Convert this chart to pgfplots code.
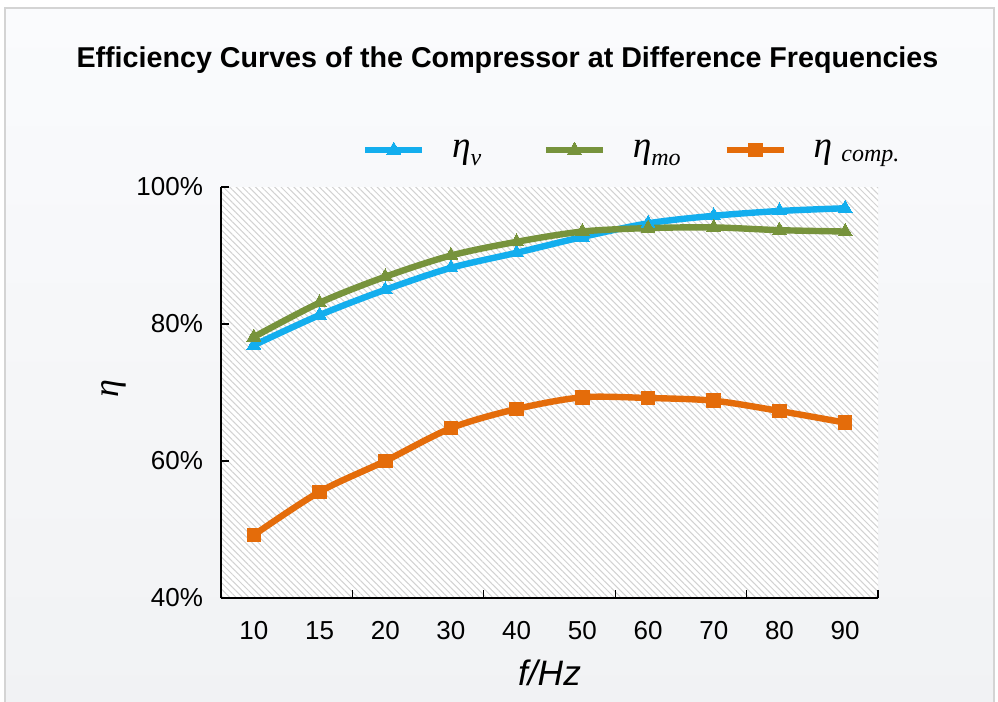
\documentclass[border=0pt]{standalone}
\usepackage{fontspec}
\setmainfont{Liberation Sans}
\newfontfamily\tnr{Liberation Serif}
\usepackage{pgfplots}
\pgfplotsset{compat=1.18}
\usetikzlibrary{patterns.meta}
\definecolor{cblue}{HTML}{13AEEE}
\definecolor{cgreen}{HTML}{77933C}
\definecolor{corange}{HTML}{E46C0A}
\definecolor{bgtop}{HTML}{FAFBFD}
\definecolor{bgbot}{HTML}{F1F2F4}
\definecolor{bordergray}{HTML}{D4D4D4}
\definecolor{hatch}{HTML}{D2D2D2}

\pgfplotstableread{
x  v     mo    comp
0  76.9  78.1  49.2
1  81.3  83.1  55.5
2  85.0  86.9  60.0
3  88.2  90.0  64.8
4  90.4  92.0  67.6
5  92.7  93.5  69.3
6  94.7  94.0  69.2
7  95.8  94.1  68.8
8  96.5  93.7  67.3
9  96.9  93.5  65.6
}\datatable

\begin{document}
\begin{tikzpicture}
\useasboundingbox (0,0) rectangle (748.5pt,525.75pt);
\clip (0,0) rectangle (748.5pt,525.75pt);
\fill[white] (0,0) rectangle (748.5pt,525.75pt);
\shade[top color=bgtop,bottom color=bgbot,draw=bordergray,line width=0.9pt] (3.75pt,-10pt) rectangle (745.5pt,519.75pt);
\node[font=\fontsize{21.5}{24}\selectfont\bfseries, anchor=base] at (380.6pt,474.75pt) {Efficiency Curves of the Compressor at Difference Frequencies};
\begin{axis}[
  at={(165.75pt,77.25pt)}, anchor=south west,
  scale only axis, width=492.75pt, height=308.25pt,
  xmin=-0.5, xmax=9.5, ymin=40, ymax=100,
  axis x line*=bottom, axis y line*=left,
  axis line style={line width=1.1pt,black},
  tick align=inside,
  major tick length=6pt,
  every tick/.style={black,line width=1pt},
  xtick={-0.5,1.5,3.5,5.5,7.5,9.5}, xticklabels={},
  extra x ticks={0,1,2,3,4,5,6,7,8,9},
  extra x tick labels={10,15,20,30,40,50,60,70,80,90},
  extra x tick style={major tick length=0pt},
  ytick={40,60,80,100}, yticklabels={40\%,60\%,80\%,100\%},
  tick label style={font=\fontsize{19.5}{21}\selectfont},
  yticklabel style={xshift=-10pt},
  xticklabel style={yshift=-14pt},
  xlabel={\itshape f/Hz},
  xlabel style={at={(axis description cs:0.5,-0.182)}, anchor=center, font=\fontsize{26.5}{28}\selectfont},
  ylabel={\tnr\itshape η},
  ylabel style={at={(axis description cs:-0.163,0.51)}, anchor=center, font=\fontsize{27}{27}\selectfont},
  axis background/.style={preaction={fill=white}, pattern={Lines[angle=-45,distance=3.4pt,line width=0.75pt]}, pattern color=hatch},
  legend columns=3,
  legend style={at={(axis description cs:0.2146,1.09)}, anchor=west, draw=none, fill=none, inner sep=0pt, outer sep=0pt,
     /tikz/every odd column/.append style={column sep=18pt},
     /tikz/every even column/.append style={column sep=0pt}},
  legend image code/.code={\draw[mark repeat=2,mark phase=2,#1] plot coordinates {(0pt,0pt) (21.4pt,0pt) (42.75pt,0pt)};},
]
\addplot[cblue, line width=4.8pt, smooth, mark=triangle*, mark size=6pt, mark options={line width=0pt}] table[x=x,y=v] {\datatable};
\addlegendentry{\makebox[66pt][l]{\fontsize{28}{28}\selectfont\tnr\itshape η\raisebox{-6pt}{\fontsize{18}{18}\selectfont v}}}
\addplot[cgreen, line width=4.8pt, smooth, mark=triangle*, mark size=6pt, mark options={line width=0pt}] table[x=x,y=mo] {\datatable};
\addlegendentry{\makebox[66pt][l]{\fontsize{28}{28}\selectfont\tnr\itshape η\raisebox{-6pt}{\fontsize{18}{18}\selectfont mo}}}
\addplot[corange, line width=4.8pt, smooth, mark=square*, mark size=5.1pt, mark options={line width=0pt}] table[x=x,y=comp] {\datatable};
\addlegendentry{\makebox[66pt][l]{\fontsize{28}{28}\selectfont\tnr\itshape η\ \raisebox{-2.7pt}{\fontsize{18}{18}\selectfont comp.}}}
\end{axis}
\end{tikzpicture}
\end{document}
